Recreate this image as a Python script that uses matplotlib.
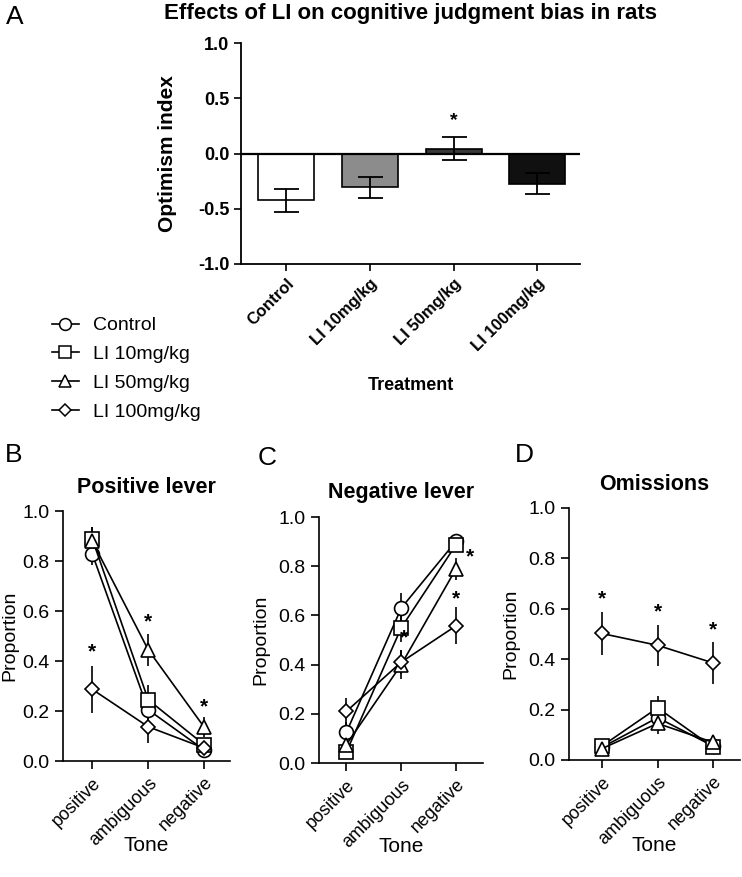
import numpy as np
import matplotlib
matplotlib.use("Agg")
import matplotlib.pyplot as plt
from matplotlib.lines import Line2D

plt.rcParams['font.family'] = ['Liberation Sans', 'DejaVu Sans']

# panel A: optimism index
treatments = ['Control', 'LI 10mg/kg', 'LI 50mg/kg', 'LI 100mg/kg']
optimism = [-0.425, -0.306, 0.045, -0.272]
optimism_err = [0.10, 0.093, 0.103, 0.095]
bar_colors = ['white', '#8c8c8c', '#383838', '#101010']

# panels B-D: proportions per tone
tones = ['positive', 'ambiguous', 'negative']
groups = ['Control', 'LI 10mg/kg', 'LI 50mg/kg', 'LI 100mg/kg']
markers = ['o', 's', '^', 'D']
msizes = [10, 9.5, 10.5, 7.5]

pos_lever = [[0.83, 0.205, 0.044], [0.89, 0.245, 0.065],
             [0.88, 0.445, 0.135], [0.287, 0.137, 0.052]]
pos_lever_err = [[0.045, 0.06, 0.015], [0.045, 0.06, 0.015],
                 [0.055, 0.065, 0.04], [0.095, 0.065, 0.015]]

neg_lever = [[0.125, 0.63, 0.902], [0.045, 0.55, 0.888],
             [0.075, 0.40, 0.79], [0.21, 0.41, 0.558]]
neg_lever_err = [[0.04, 0.06, 0.015], [0.02, 0.06, 0.02],
                 [0.03, 0.06, 0.045], [0.055, 0.05, 0.075]]

omissions = [[0.05, 0.168, 0.055], [0.055, 0.207, 0.05],
             [0.045, 0.145, 0.07], [0.502, 0.455, 0.385]]
omissions_err = [[0.015, 0.04, 0.015], [0.015, 0.045, 0.015],
                 [0.015, 0.04, 0.015], [0.085, 0.08, 0.085]]

# significance stars (x index, y, x offset)
stars_a = [(2, 0.30)]
stars_b = [(0, 0.40, 0), (1, 0.52, 0), (2, 0.18, 0)]
stars_c = [(1, 0.47, 0.05), (2, 0.80, 0.25), (2, 0.63, 0)]
stars_d = [(0, 0.60, 0), (1, 0.55, 0), (2, 0.48, 0)]

fig = plt.figure(figsize=(7.42, 8.77), dpi=100)

# ---- panel A ----
axA = fig.add_axes([241/742, 1-264/877, 339/742, 221/877])
x = np.arange(len(treatments))
axA.bar(x, optimism, width=0.67, color=bar_colors, edgecolor='black',
        linewidth=1.2, zorder=2)
axA.errorbar(x, optimism, yerr=optimism_err, fmt='none', ecolor='black',
             elinewidth=1.3, capsize=9, capthick=1.3, zorder=3)
axA.axhline(0, color='black', lw=1.6, zorder=4)
axA.set_xlim(-0.54, 3.51)
axA.set_ylim(-1.0, 1.0)
axA.set_yticks([-1.0, -0.5, 0.0, 0.5, 1.0])
axA.set_yticklabels(['-1.0', '-0.5', '0.0', '0.5', '1.0'], fontweight='bold',
                    fontsize=13)
axA.set_xticks(x)
axA.set_xticklabels(treatments, rotation=45, ha='right', rotation_mode='anchor',
                    fontweight='bold', fontsize=12)
axA.spines['top'].set_visible(False)
axA.spines['right'].set_visible(False)
for s in ['left', 'bottom']:
    axA.spines[s].set_linewidth(1.3)
axA.tick_params(width=1.2, length=5)
axA.set_ylabel('Optimism index', fontweight='bold', fontsize=15)
axA.yaxis.set_label_coords(-0.19, 0.5)
axA.set_xlabel('Treatment', fontweight='bold', fontsize=13)
axA.xaxis.set_label_coords(0.5, -0.51)
for xi, yi in stars_a:
    axA.text(xi, yi, '*', ha='center', va='center', fontsize=14, fontweight='bold')

fig.text(410/742, 1-14/877, 'Effects of LI on cognitive judgment bias in rats',
         ha='center', va='center', fontsize=16, fontweight='bold')
fig.text(6/742, 1-17/877, 'A', ha='left', va='center', fontsize=19)

# ---- legend ----
handles = [Line2D([], [], color='black', lw=1.2, marker=m, ms=ms * 0.85,
                  mfc='white', mec='black', mew=1.1)
           for m, ms in zip(markers, msizes)]
fig.legend(handles, groups, loc='upper left', bbox_to_anchor=(42/742, 1-307/877),
           frameon=False, fontsize=14, handlelength=1.4,
           handletextpad=0.7, labelspacing=0.58, borderpad=0)


def line_panel(rect, data, err, stars, title, letter, letter_xy, title_pad,
               xlim, ylab_x):
    ax = fig.add_axes(rect)
    xs = np.arange(len(tones))
    for vals, e, m, ms in zip(data, err, markers, msizes):
        ax.errorbar(xs, vals, yerr=e, fmt='none', ecolor='black', elinewidth=1.2,
                    capsize=0, zorder=1)
        ax.plot(xs, vals, color='black', lw=1.2, marker=m, ms=ms, mfc='white',
                mec='black', mew=1.2, zorder=2, clip_on=False)
    for xi, yi, dx in stars:
        ax.text(xi + dx, yi, '*', ha='center', va='bottom', fontsize=15,
                fontweight='bold')
    ax.set_xlim(*xlim)
    ax.set_ylim(0, 1.0)
    ax.set_yticks([0, 0.2, 0.4, 0.6, 0.8, 1.0])
    ax.set_yticklabels(['0.0', '0.2', '0.4', '0.6', '0.8', '1.0'], fontsize=14)
    ax.set_xticks(xs)
    ax.set_xticklabels(tones, rotation=45, ha='right', rotation_mode='anchor',
                       fontsize=13)
    ax.spines['top'].set_visible(False)
    ax.spines['right'].set_visible(False)
    for s in ['left', 'bottom']:
        ax.spines[s].set_linewidth(1.2)
    ax.tick_params(width=1.2, length=6)
    ax.set_ylabel('Proportion', fontsize=14)
    ax.yaxis.set_label_coords(ylab_x, 0.5)
    ax.set_xlabel('Tone', fontsize=15)
    ax.xaxis.set_label_coords(0.5, -0.30)
    ax.set_title(title, fontsize=15.5, fontweight='bold', pad=title_pad)
    fig.text(letter_xy[0]/742, 1-letter_xy[1]/877, letter, ha='left',
             va='center', fontsize=19)
    return ax


line_panel([63/742, 1-761/877, 167/742, 250/877], pos_lever, pos_lever_err,
           stars_b, 'Positive lever', 'B', (5, 455), 13, (-0.52, 2.46), -0.27)
line_panel([319/742, 1-763/877, 164/742, 246/877], neg_lever, neg_lever_err,
           stars_c, 'Negative lever', 'C', (258, 458), 14, (-0.5, 2.49), -0.30)
line_panel([569/742, 1-760/877, 171/742, 252/877], omissions, omissions_err,
           stars_d, 'Omissions', 'D', (515, 455), 13, (-0.59, 2.48), -0.29)

fig.savefig('out.png', dpi=100)
